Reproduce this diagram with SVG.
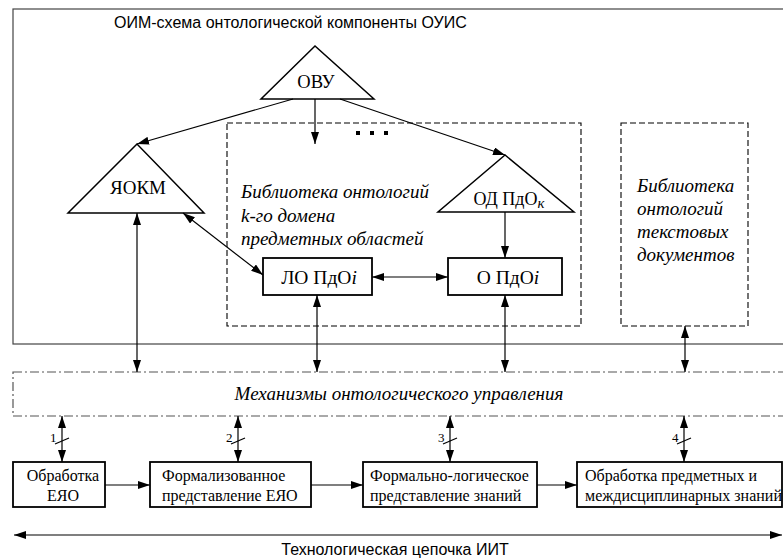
<svg xmlns="http://www.w3.org/2000/svg" width="783" height="558" viewBox="0 0 783 558">
<style>
.serif{font-family:"Liberation Serif","Times New Roman",serif;fill:#000}
.sans{font-family:"Liberation Sans",Arial,sans-serif;fill:#000}
.it{font-style:italic}
.tri{fill:#fff;stroke:#000;stroke-width:1.5}
.box{fill:#fff;stroke:#000;stroke-width:1.8}
.dash{fill:none;stroke:#000;stroke-width:1.1;stroke-dasharray:6,3}
.dashdot{fill:none;stroke:#555;stroke-width:1.2;stroke-dasharray:9,3,2,3}
.con{fill:none;stroke:#000;stroke-width:1.2}
.dbl{marker-start:url(#ah);marker-end:url(#ah)}
.one{marker-end:url(#ah)}
</style>
<defs>
<marker id="ah" viewBox="0 0 12 8" refX="12" refY="4" markerWidth="12" markerHeight="8" markerUnits="userSpaceOnUse" orient="auto-start-reverse">
<path d="M0,0 L12,4 L0,8 z" fill="#000"/>
</marker>
</defs>
<rect width="783" height="558" fill="#fff"/>

<g id="outer">
<rect x="13" y="9" width="790" height="335" fill="none" stroke="#444" stroke-width="1.2"/>
<text class="sans" x="114" y="28" font-size="16">ОИМ-схема онтологической компоненты ОУИС</text>
</g>

<g id="lib-domain">
<rect class="dash" x="227" y="123" width="354" height="203"/>
<text class="serif it" font-size="19"><tspan x="241" y="198">Библиотека онтологий</tspan><tspan x="241" y="222">k-го домена</tspan><tspan x="241" y="245">предметных областей</tspan></text>
<rect x="356" y="131" width="4" height="4" fill="#000"/>
<rect x="370" y="131" width="4" height="4" fill="#000"/>
<rect x="384" y="131" width="4" height="4" fill="#000"/>
</g>

<g id="lib-text">
<rect class="dash" x="621" y="123" width="127" height="203"/>
<text class="serif it" font-size="19"><tspan x="637" y="192">Библиотека</tspan><tspan x="637" y="215">онтологий</tspan><tspan x="637" y="238">текстовых</tspan><tspan x="637" y="261">документов</tspan></text>
</g>

<g id="ovu">
<polygon class="tri" points="315,46 261,99 374,99"/>
<text class="serif" x="316" y="88" font-size="18.5" text-anchor="middle">ОВУ</text>
</g>

<g id="yokm">
<polygon class="tri" points="137,144 68,213 204,213"/>
<text class="serif" x="138" y="194" font-size="19" text-anchor="middle">ЯОКМ</text>
</g>

<g id="od-pdo">
<polygon class="tri" points="505,155 438,212 574,212"/>
<text class="serif" x="509" y="205" font-size="18" text-anchor="middle">ОД ПдО<tspan class="it" font-size="15" dy="3">к</tspan></text>
</g>

<g id="lo-pdo">
<rect class="box" x="263" y="258" width="109" height="37"/>
<text class="serif" x="319" y="284" font-size="19.5" text-anchor="middle">ЛО ПдО<tspan class="it">i</tspan></text>
</g>

<g id="o-pdo">
<rect class="box" x="448" y="258" width="114" height="37"/>
<text class="serif" x="508" y="284" font-size="19.5" text-anchor="middle">О ПдО<tspan class="it">i</tspan></text>
</g>

<g id="mechanisms">
<rect class="dashdot" x="13" y="372" width="790" height="44"/>
<text class="serif it" x="399" y="400" font-size="19" text-anchor="middle">Механизмы онтологического управления</text>
</g>

<g id="b1">
<rect class="box" x="13" y="462" width="92" height="45"/>
<text class="serif" font-size="16" text-anchor="middle"><tspan x="63" y="481">Обработка</tspan><tspan x="63" y="501">ЕЯО</tspan></text>
</g>
<g id="b2">
<rect class="box" x="150" y="462" width="161" height="45"/>
<text class="serif" font-size="16"><tspan x="162" y="481">Формализованное</tspan><tspan x="162" y="501">представление ЕЯО</tspan></text>
</g>
<g id="b3">
<rect class="box" x="363" y="462" width="174" height="45"/>
<text class="serif" font-size="16"><tspan x="370" y="481">Формально-логическое</tspan><tspan x="370" y="501">представление знаний</tspan></text>
</g>
<g id="b4">
<rect class="box" x="577" y="462" width="205" height="45"/>
<text class="serif" font-size="16"><tspan x="585" y="481">Обработка предметных и</tspan><tspan x="585" y="501">междисциплинарных знаний</tspan></text>
</g>

<g id="chain">
<text class="sans" x="395" y="555" font-size="16" text-anchor="middle">Технологическая цепочка ИИТ</text>
</g>

<g id="connectors">
<line class="con one" x1="293" y1="99" x2="137" y2="144"/>
<line class="con one" x1="315" y1="99" x2="315" y2="144"/>
<line class="con one" x1="340" y1="99" x2="505" y2="155"/>
<line class="con one" x1="505" y1="212" x2="505" y2="258"/>
<line class="con dbl" x1="183" y1="213" x2="263" y2="275"/>
<line class="con dbl" x1="372" y1="277" x2="448" y2="277"/>
<line class="con dbl" x1="137" y1="213" x2="137" y2="372"/>
<line class="con dbl" x1="317" y1="295" x2="317" y2="372"/>
<line class="con dbl" x1="505" y1="295" x2="505" y2="372"/>
<line class="con dbl" x1="685" y1="326" x2="685" y2="372"/>
<line class="con dbl" x1="62" y1="416" x2="62" y2="462"/>
<line class="con dbl" x1="238" y1="416" x2="238" y2="462"/>
<line class="con dbl" x1="450" y1="416" x2="450" y2="462"/>
<line class="con dbl" x1="684" y1="416" x2="684" y2="462"/>
<line class="con" x1="55" y1="444" x2="69" y2="438"/>
<line class="con" x1="231" y1="444" x2="245" y2="438"/>
<line class="con" x1="443" y1="444" x2="457" y2="438"/>
<line class="con" x1="677" y1="444" x2="691" y2="438"/>
<text class="serif" font-size="13"><tspan x="50" y="442">1</tspan><tspan x="226" y="442">2</tspan><tspan x="438" y="442">3</tspan><tspan x="672" y="442">4</tspan></text>
<line class="con one" x1="105" y1="485" x2="150" y2="485"/>
<line class="con one" x1="311" y1="485" x2="363" y2="485"/>
<line class="con one" x1="537" y1="485" x2="577" y2="485"/>
<line class="con dbl" x1="14" y1="535" x2="782" y2="535" stroke="#444"/>
</g>
</svg>
